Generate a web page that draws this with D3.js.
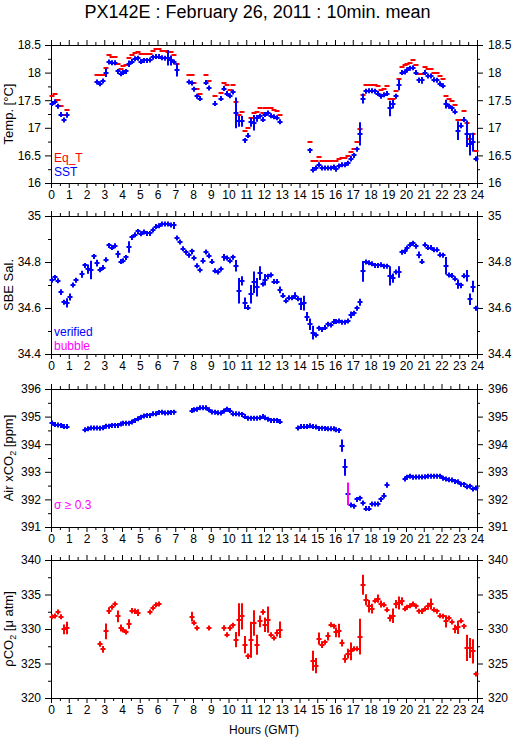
<!DOCTYPE html>
<html>
<head>
<meta charset="utf-8">
<script src="https://cdn.jsdelivr.net/npm/d3@7"></script>
<style>
  body { margin: 0; background: #fff; }
  svg text { font-family: "Liberation Sans", Arial, Helvetica, sans-serif; }
</style>
</head>
<body>
<div id="chart"></div>
<script>
// [hour, SST, SST std, Eq_T]
const tempRows = [
  [0.08,17.44,0,17.57],[0.25,17.47,0,17.61],[0.42,17.39,0,17.51],[0.58,17.24,0,17.39],[0.75,17.14,0,17.23],[0.92,17.23,0.05,17.33],
  [2.58,17.83,0.04,17.96],[2.75,17.80,0,17.96],[2.92,17.85,0.03,17.96],[3.08,18.00,0.08,18.09],[3.25,18.19,0,18.31],[3.42,18.18,0,18.29],
  [3.58,18.18,0,18.29],[3.75,18.02,0.03,18.16],[3.92,17.98,0.03,18.07],[4.08,18.00,0,18.12],[4.25,18.02,0,18.14],[4.42,18.16,0.06,18.26],
  [4.58,18.20,0.03,18.32],[4.75,18.25,0.03,18.35],[4.92,18.26,0.03,18.37],[5.08,18.20,0.03,18.33],[5.25,18.22,0.02,18.34],[5.42,18.22,0,18.34],
  [5.58,18.23,0,18.34],[5.75,18.28,0,18.39],[5.92,18.29,0,18.43],[6.08,18.29,0,18.43],[6.25,18.27,0.03,18.39],[6.42,18.26,0.02,18.40],
  [6.58,18.27,0.14,18.37],[6.75,18.22,0.09,18.37],[6.92,18.19,0.04,18.31],[7.08,18.05,0.12,18.15],
  [7.75,17.83,0.04,17.95],[7.92,17.81,0.04,17.95],[8.08,17.70,0,17.82],[8.25,17.57,0.03,17.71],[8.42,17.53,0.03,17.62],
  [8.75,17.82,0.03,17.95],[8.92,17.72,0.03,17.85],[9.25,17.44,0.03,17.58],[9.58,17.53,0.03,17.63],[9.75,17.71,0.04,17.81],
  [9.92,17.62,0.03,17.77],[10.08,17.58,0.03,17.69],[10.25,17.65,0,17.78],[10.42,17.27,0.28,17.47],[10.58,17.12,0.1,17.23],
  [10.75,17.12,0.1,17.28],[10.92,16.77,0,16.94],[11.08,16.86,0,17.00],[11.25,17.10,0.08,17.18],[11.42,17.09,0.14,17.26],
  [11.58,17.17,0.06,17.29],[11.75,17.21,0.04,17.35],[11.92,17.15,0,17.27],[12.08,17.24,0.03,17.35],[12.25,17.27,0.03,17.36],
  [12.42,17.22,0,17.36],[12.58,17.20,0,17.33],[12.75,17.18,0,17.31],[12.92,17.11,0,17.24],
  [14.58,16.59,0.03,16.75],[14.75,16.24,0.05,16.40],[14.92,16.27,0.03,16.40],[15.08,16.33,0,16.48],[15.25,16.27,0,16.40],
  [15.42,16.27,0,16.40],[15.58,16.27,0,16.40],[15.75,16.27,0,16.40],[15.92,16.29,0,16.39],[16.08,16.25,0,16.39],
  [16.25,16.31,0,16.44],[16.42,16.33,0,16.46],[16.58,16.33,0,16.46],[16.75,16.36,0,16.49],[16.92,16.44,0.05,16.56],
  [17.08,16.50,0.03,16.62],[17.25,16.61,0.03,16.74],[17.42,16.89,0.21,16.97],[17.58,17.53,0.09,17.60],[17.75,17.66,0,17.78],
  [17.92,17.67,0,17.78],[18.08,17.67,0,17.78],[18.25,17.66,0,17.78],[18.42,17.62,0,17.76],[18.58,17.57,0,17.68],
  [18.75,17.60,0,17.71],[18.92,17.62,0,17.75],[19.08,17.35,0.14,17.52],[19.25,17.43,0.08,17.53],[19.42,17.57,0.03,17.67],
  [19.58,17.78,0.1,17.89],[19.75,18.00,0,18.10],[19.92,18.01,0,18.14],[20.08,18.05,0,18.16],[20.25,18.08,0,18.18],
  [20.42,18.09,0,18.22],[20.58,18.00,0.03,18.13],[20.75,17.86,0.05,17.98],[20.92,17.86,0.06,17.97],[21.08,18.00,0,18.10],
  [21.25,17.94,0.03,18.06],[21.42,17.94,0.03,18.07],[21.58,17.87,0,18.00],[21.75,17.86,0,17.99],[21.92,17.80,0,17.94],
  [22.08,17.76,0.03,17.89],[22.25,17.43,0.08,17.58],[22.42,17.39,0,17.53],[22.58,17.35,0.03,17.49],[22.75,17.29,0,17.41],
  [22.92,16.95,0.17,17.14],[23.08,17.04,0.05,17.15],[23.25,17.15,0,17.30],[23.42,16.89,0.24,17.09],[23.58,16.70,0.2,16.79],
  [23.75,16.74,0.17,16.89],[23.92,16.44,0,16.58]
];

// [hour, SBE salinity, std]
const salRows = [
  [0.08,34.721,0],[0.25,34.733,0],[0.42,34.718,0.008],[0.58,34.669,0.012],[0.75,34.625,0.01],[0.92,34.622,0.02],
  [1.08,34.648,0.015],[1.25,34.700,0.008],[1.42,34.721,0],[1.75,34.747,0.015],[1.92,34.785,0],[2.08,34.769,0.02],
  [2.25,34.765,0.04],[2.42,34.824,0],[2.58,34.795,0.015],[2.75,34.766,0],[2.92,34.776,0.008],[3.08,34.81,0.01],
  [3.25,34.872,0.01],[3.42,34.863,0],[3.58,34.871,0],[3.75,34.834,0.015],[3.92,34.802,0.008],[4.08,34.805,0],
  [4.25,34.82,0],[4.42,34.865,0.025],[4.58,34.907,0.008],[4.75,34.919,0.008],[4.92,34.933,0],[5.08,34.923,0],
  [5.25,34.93,0],[5.42,34.924,0],[5.58,34.924,0],[5.75,34.939,0],[5.92,34.954,0],[6.08,34.958,0],[6.25,34.965,0],
  [6.42,34.965,0],[6.58,34.965,0],[6.75,34.961,0],[6.92,34.959,0.015],[7.08,34.904,0.008],[7.25,34.887,0],
  [7.42,34.858,0.008],[7.58,34.842,0],[7.75,34.829,0.01],[7.92,34.846,0.012],[8.08,34.817,0],[8.25,34.784,0.01],
  [8.42,34.765,0.008],[8.58,34.805,0.012],[8.75,34.843,0],[8.92,34.827,0.008],[9.08,34.802,0.008],[9.25,34.762,0.01],
  [9.42,34.756,0.008],[9.58,34.77,0.008],[9.75,34.82,0.015],[9.92,34.817,0.01],[10.08,34.805,0.008],[10.25,34.821,0.008],
  [10.42,34.784,0.025],[10.58,34.675,0.055],[10.75,34.718,0.02],[10.92,34.621,0.025],[11.08,34.602,0.01],[11.25,34.66,0.04],
  [11.42,34.712,0.047],[11.58,34.69,0.04],[11.75,34.752,0.03],[11.92,34.704,0],[12.08,34.723,0.025],[12.25,34.737,0.012],
  [12.42,34.744,0.01],[12.58,34.715,0.008],[12.75,34.715,0.008],[12.92,34.679,0.015],[13.08,34.654,0.01],[13.25,34.632,0],
  [13.42,34.645,0.008],[13.58,34.645,0.01],[13.75,34.654,0.015],[13.92,34.64,0.01],[14.08,34.618,0.027],[14.25,34.621,0.032],
  [14.42,34.563,0.02],[14.58,34.529,0.025],[14.75,34.493,0.03],[14.92,34.483,0],[15.08,34.512,0],[15.25,34.507,0],
  [15.42,34.515,0],[15.58,34.529,0],[15.75,34.526,0.01],[15.92,34.541,0],[16.08,34.541,0],[16.25,34.544,0.008],
  [16.42,34.538,0],[16.58,34.538,0],[16.75,34.544,0.008],[16.92,34.57,0.015],[17.08,34.577,0.008],[17.25,34.599,0.008],
  [17.42,34.625,0.015],[17.58,34.759,0.045],[17.75,34.80,0],[17.92,34.797,0],[18.08,34.792,0],[18.25,34.785,0],
  [18.42,34.785,0.008],[18.58,34.788,0.008],[18.75,34.781,0],[18.92,34.782,0],[19.08,34.74,0.042],[19.25,34.73,0.02],
  [19.42,34.756,0.008],[19.58,34.756,0.025],[19.75,34.842,0.01],[19.92,34.846,0],[20.08,34.861,0],[20.25,34.875,0],
  [20.42,34.882,0],[20.58,34.868,0.008],[20.75,34.831,0.015],[20.92,34.802,0.01],[21.08,34.875,0.008],[21.25,34.863,0],
  [21.42,34.863,0],[21.58,34.853,0],[21.75,34.853,0.008],[21.92,34.831,0],[22.08,34.829,0],[22.25,34.784,0.038],
  [22.42,34.744,0],[22.58,34.741,0],[22.75,34.727,0],[22.92,34.704,0.02],[23.08,34.698,0.012],[23.25,34.74,0],
  [23.42,34.74,0.025],[23.58,34.638,0.025],[23.75,34.693,0.025],[23.92,34.599,0]
];

// [hour, air xCO2, std, sigma >= 0.3]
const airRows = [
  [0.08,394.77,0,0],[0.25,394.71,0,0],[0.42,394.70,0,0],[0.58,394.68,0,0],[0.75,394.64,0,0],[0.92,394.64,0,0],
  [1.92,394.52,0,0],[2.08,394.56,0,0],[2.25,394.59,0,0],[2.42,394.59,0,0],[2.58,394.59,0,0],[2.75,394.58,0,0],
  [2.92,394.60,0,0],[3.08,394.65,0,0],[3.25,394.65,0,0],[3.42,394.68,0,0],[3.58,394.68,0,0],[3.75,394.68,0,0],
  [3.92,394.73,0,0],[4.08,394.76,0,0],[4.25,394.76,0,0],[4.42,394.76,0,0],[4.58,394.80,0,0],[4.75,394.86,0,0],
  [4.92,394.92,0,0],[5.08,394.98,0,0],[5.25,395.02,0,0],[5.42,395.04,0,0],[5.58,395.04,0,0],[5.75,395.10,0,0],
  [5.92,395.10,0,0],[6.08,395.15,0,0],[6.25,395.16,0,0],[6.42,395.13,0,0],[6.58,395.14,0,0],[6.75,395.15,0,0],
  [6.92,395.16,0,0],
  [7.92,395.22,0,0],[8.08,395.25,0,0],[8.25,395.27,0,0],[8.42,395.32,0,0],[8.58,395.32,0,0],[8.75,395.32,0,0],
  [8.92,395.25,0,0],[9.08,395.17,0,0],[9.25,395.16,0,0],[9.42,395.14,0,0],[9.58,395.13,0,0],[9.75,395.20,0,0],
  [9.92,395.27,0,0],[10.08,395.22,0,0],[10.25,395.10,0,0],[10.42,395.10,0,0],[10.58,395.09,0,0],[10.75,395.08,0.08,0],
  [10.92,395.00,0,0],[11.08,394.94,0,0],[11.25,394.94,0,0],[11.42,394.94,0,0],[11.58,394.94,0,0],[11.75,394.96,0,0],
  [11.92,395.00,0,0],[12.08,394.96,0,0],[12.25,394.90,0,0],[12.42,394.86,0,0],[12.58,394.86,0,0],[12.75,394.86,0,0],
  [12.92,394.82,0,0],
  [13.92,394.59,0,0],[14.08,394.64,0,0],[14.25,394.64,0,0],[14.42,394.64,0,0],[14.58,394.67,0,0],[14.75,394.64,0,0],
  [14.92,394.62,0,0],[15.08,394.57,0,0],[15.25,394.58,0,0],[15.42,394.57,0,0],[15.58,394.56,0,0],[15.75,394.56,0,0],
  [15.92,394.56,0,0],[16.08,394.52,0,0],[16.25,394.50,0,0],[16.42,393.95,0.22,0],[16.58,393.16,0.3,0],
  [16.75,392.20,0.41,1],[16.92,391.80,0,0],[17.08,391.75,0,0],[17.25,392.00,0,0],[17.42,392.04,0,0],
  [17.58,391.87,0.08,0],[17.75,391.67,0,0],[17.92,391.67,0.08,0],[18.08,391.83,0,0],[18.25,391.83,0,0],
  [18.42,391.83,0,0],[18.58,392.00,0,0],[18.75,392.13,0.1,0],[18.92,392.52,0.1,0],
  [19.92,392.74,0,0],[20.08,392.80,0,0],[20.25,392.84,0,0],[20.42,392.80,0,0],[20.58,392.81,0,0],[20.75,392.81,0,0],
  [20.92,392.81,0,0],[21.08,392.82,0,0],[21.25,392.84,0,0],[21.42,392.84,0,0],[21.58,392.84,0,0],[21.75,392.84,0,0],
  [21.92,392.84,0,0],[22.08,392.77,0,0],[22.25,392.74,0,0],[22.42,392.71,0,0],[22.58,392.70,0,0],[22.75,392.65,0,0],
  [22.92,392.64,0,0],[23.08,392.55,0,0],[23.25,392.54,0,0],[23.42,392.46,0,0],[23.58,392.48,0,0],[23.75,392.38,0,0],
  [23.92,392.41,0,0]
];

// [hour, pCO2, std]
const pco2Rows = [
  [0.08,331.79,0],[0.25,331.88,0],[0.42,332.46,0],[0.58,331.79,0.3],[0.75,329.95,0.7],[0.92,330.14,0.9],
  [2.75,327.83,0.4],[2.92,327.05,0.5],[3.08,329.66,1.15],[3.25,332.66,0.5],[3.42,333.14,0.2],[3.58,333.62,0],
  [3.75,331.84,0.85],[3.92,330.14,0.5],[4.08,329.86,0],[4.25,329.57,0.3],[4.42,330.72,0.7],[4.58,332.66,0.4],
  [4.75,332.56,0.4],[4.92,332.37,0.5],
  [5.58,332.46,0],[5.75,333.04,0.2],[5.92,333.53,0],[6.08,333.62,0],
  [7.92,331.79,0.7],[8.08,330.92,0.2],[8.25,330.14,0.3],[8.92,330.14,0],
  [9.75,330.14,0.4],[9.92,329.18,0.3],[10.08,330.14,0.4],[10.25,330.53,0.3],[10.42,328.45,1.1],[10.58,331.35,2.4],
  [10.75,331.84,1.9],[10.92,327.73,1.25],[11.08,326.04,0.4],[11.25,328.45,2.6],[11.42,330.87,1.85],[11.58,327.73,1.45],
  [11.75,331.11,0.85],[11.92,332.46,0.4],[12.08,330.63,1.05],[12.25,331.35,1.9],[12.42,329.18,0.3],[12.58,328.70,0.3],
  [12.75,329.42,0.5],[12.92,329.90,1.2],
  [14.75,325.41,1.45],[14.92,324.69,1.1],[15.08,328.60,0.9],[15.25,327.73,0.5],[15.42,328.07,0.3],[15.58,328.94,0.6],
  [15.75,330.63,0.2],[15.92,330.39,0.3],[16.08,329.52,0.7],[16.25,329.76,1.0],[16.42,327.97,0.5],[16.58,325.70,0.6],
  [16.75,326.43,0.7],[16.92,326.76,1.3],[17.08,327.15,0.3],[17.25,327.15,0.3],[17.42,328.89,2.6],[17.58,336.43,1.45],
  [17.75,334.25,0.8],[17.92,333.29,0.9],[18.08,332.95,0.7],[18.25,334.11,0.3],[18.42,334.40,0.6],[18.58,333.62,0.5],
  [18.75,333.53,0.2],[18.92,332.80,0],[19.08,331.59,0.5],[19.25,331.93,1.05],[19.42,333.62,0.6],[19.58,333.77,0.95],
  [19.75,334.00,0.6],[19.92,332.95,0],[20.08,333.14,0.2],[20.25,333.38,0.2],[20.42,333.62,0],[20.58,333.29,0.2],
  [20.75,332.56,0.2],[20.92,332.56,0.4],[21.08,332.95,0.2],[21.25,333.29,0.5],[21.42,333.62,0.8],[21.58,332.80,0.2],
  [21.75,332.56,0.2],[21.92,331.93,0],[22.08,331.84,0.3],[22.25,331.11,0.9],[22.42,331.59,0.3],[22.58,331.01,0.2],
  [22.75,330.00,0.6],[22.92,330.24,0.95],[23.08,331.21,0.3],[23.25,330.39,0],[23.42,327.25,1.9],[23.58,327.25,1.45],
  [23.75,326.76,1.75],[23.92,323.48,0.3]
];

const hourTicks = d3.range(0, 25);
const tempTicks = [16, 16.5, 17, 17.5, 18, 18.5];
const salTicks = [34.4, 34.6, 34.8, 35];
const airTicks = [391, 392, 393, 394, 395, 396];
const pco2Ticks = [320, 325, 330, 335, 340];

const width = 515,
    height = 739,
    left = 51,
    right = 477,
    panelH = 138,
    tops = [45, 216, 389, 560];

const blue = "#0000ff", red = "#ff0000", magenta = "#ff00ff";

const svg = d3.select("#chart").append("svg")
    .attr("width", width)
    .attr("height", height)
    .style("display", "block");

svg.append("rect").attr("width", width).attr("height", height).attr("fill", "#fff");

svg.append("text")
    .attr("x", width / 2)
    .attr("y", 18)
    .attr("text-anchor", "middle")
    .style("font-size", "18px")
    .text("PX142E : February 26, 2011 : 10min. mean");

const x = d3.scaleLinear().domain([0, 24]).range([left, right]);

function midpoints(t) {
  return t.slice(1).map(function(v, i) { return (v + t[i]) / 2; });
}

function panel(i, ticks, label) {
  const top = tops[i];
  const y = d3.scaleLinear().domain(d3.extent(ticks)).range([top + panelH, top]);
  const g = svg.append("g");

  const minor = midpoints(ticks);
  const halfHours = midpoints(hourTicks);

  // ticks on all four sides, labels on left, right and bottom
  g.append("g").attr("transform", "translate(0," + (top + panelH) + ")")
      .call(d3.axisBottom(x).tickValues(hourTicks).tickSize(5).tickPadding(2).tickFormat(d3.format("d")));
  g.append("g").attr("transform", "translate(0," + (top + panelH) + ")")
      .call(d3.axisBottom(x).tickValues(halfHours).tickSize(3).tickFormat(""));
  g.append("g").attr("transform", "translate(0," + top + ")")
      .call(d3.axisTop(x).tickValues(hourTicks).tickSize(5).tickFormat(""));
  g.append("g").attr("transform", "translate(0," + top + ")")
      .call(d3.axisTop(x).tickValues(halfHours).tickSize(3).tickFormat(""));
  g.append("g").attr("transform", "translate(" + left + ",0)")
      .call(d3.axisLeft(y).tickValues(ticks).tickSize(6).tickPadding(4).tickFormat(d3.format("")));
  g.append("g").attr("transform", "translate(" + left + ",0)")
      .call(d3.axisLeft(y).tickValues(minor).tickSize(3).tickFormat(""));
  g.append("g").attr("transform", "translate(" + right + ",0)")
      .call(d3.axisRight(y).tickValues(ticks).tickSize(6).tickPadding(5).tickFormat(d3.format("")));
  g.append("g").attr("transform", "translate(" + right + ",0)")
      .call(d3.axisRight(y).tickValues(minor).tickSize(3).tickFormat(""));

  g.selectAll(".domain").remove();
  g.selectAll(".tick line").attr("stroke", "#000");
  g.selectAll(".tick text")
      .attr("fill", "#000")
      .style("font-size", "12px")
      .style("font-family", "'Liberation Sans', Arial, sans-serif");

  g.append("rect")
      .attr("x", left + 0.5)
      .attr("y", top + 0.5)
      .attr("width", right - left)
      .attr("height", panelH)
      .attr("fill", "none")
      .attr("stroke", "#000");

  const t = g.append("text")
      .attr("transform", "translate(13," + (top + panelH / 2) + ") rotate(-90)")
      .attr("text-anchor", "middle")
      .style("font-size", "13px");
  label.forEach(function(part) {
    const s = t.append("tspan").text(part[0]);
    if (part[1] === "sub") s.attr("dy", 3).style("font-size", "9px");
    if (part[1] === "up") s.attr("dy", -3);
    if (part[1] === "it") s.style("font-style", "italic");
  });

  return { g: g, y: y };
}

function crosses(p, rows, color, vColor) {
  const y = p.y;
  p.g.append("g").selectAll("line")
    .data(rows)
    .join("line")
      .attr("x1", function(d) { return Math.round(x(d[0])) - 2.5; })
      .attr("x2", function(d) { return Math.round(x(d[0])) + 2.5; })
      .attr("y1", function(d) { return Math.round(y(d[1])); })
      .attr("y2", function(d) { return Math.round(y(d[1])); })
      .attr("stroke", color)
      .attr("stroke-width", 2);
  p.g.append("g").selectAll("line")
    .data(rows)
    .join("line")
      .attr("x1", function(d) { return Math.round(x(d[0])); })
      .attr("x2", function(d) { return Math.round(x(d[0])); })
      .attr("y1", function(d) { return Math.min(y(d[1] + d[2]), y(d[1]) - 2.5); })
      .attr("y2", function(d) { return Math.max(y(d[1] - d[2]), y(d[1]) + 2.5); })
      .attr("stroke", function(d) { return vColor(d); })
      .attr("stroke-width", 2);
}

function legend(p, x0, y0, items) {
  items.forEach(function(it, k) {
    p.g.append("text")
        .attr("x", x0)
        .attr("y", y0 + k * 14)
        .attr("fill", it[1])
        .style("font-size", "12px")
        .text(it[0]);
  });
}

// temperature
const p1 = panel(0, tempTicks, [["Temp. [°C]"]]);
p1.g.append("g").selectAll("line")
  .data(tempRows)
  .join("line")
    .attr("x1", function(d) { return Math.round(x(d[0])) - 2.5; })
    .attr("x2", function(d) { return Math.round(x(d[0])) + 2.5; })
    .attr("y1", function(d) { return Math.round(p1.y(d[3])); })
    .attr("y2", function(d) { return Math.round(p1.y(d[3])); })
    .attr("stroke", red)
    .attr("stroke-width", 2);
crosses(p1, tempRows, blue, function() { return blue; });
legend(p1, 54, 162, [["Eq_T", red], ["SST", blue]]);

// salinity
const p2 = panel(1, salTicks, [["SBE Sal."]]);
crosses(p2, salRows, blue, function() { return blue; });
legend(p2, 54, 336, [["verified", blue], ["bubble", magenta]]);

// air xCO2
const p3 = panel(2, airTicks, [["Air xCO"], ["2", "sub"], [" [ppm]", "up"]]);
crosses(p3, airRows, blue, function(d) { return d[3] ? magenta : blue; });
legend(p3, 54, 509, [["σ ≥ 0.3", magenta]]);

// pCO2
const p4 = panel(3, pco2Ticks, [["ρCO"], ["2", "sub"], [" [μ atm]", "up"]]);
crosses(p4, pco2Rows, red, function() { return red; });

svg.append("text")
    .attr("x", (left + right) / 2)
    .attr("y", 734)
    .attr("text-anchor", "middle")
    .style("font-size", "12px")
    .text("Hours (GMT)");
</script>
</body>
</html>
